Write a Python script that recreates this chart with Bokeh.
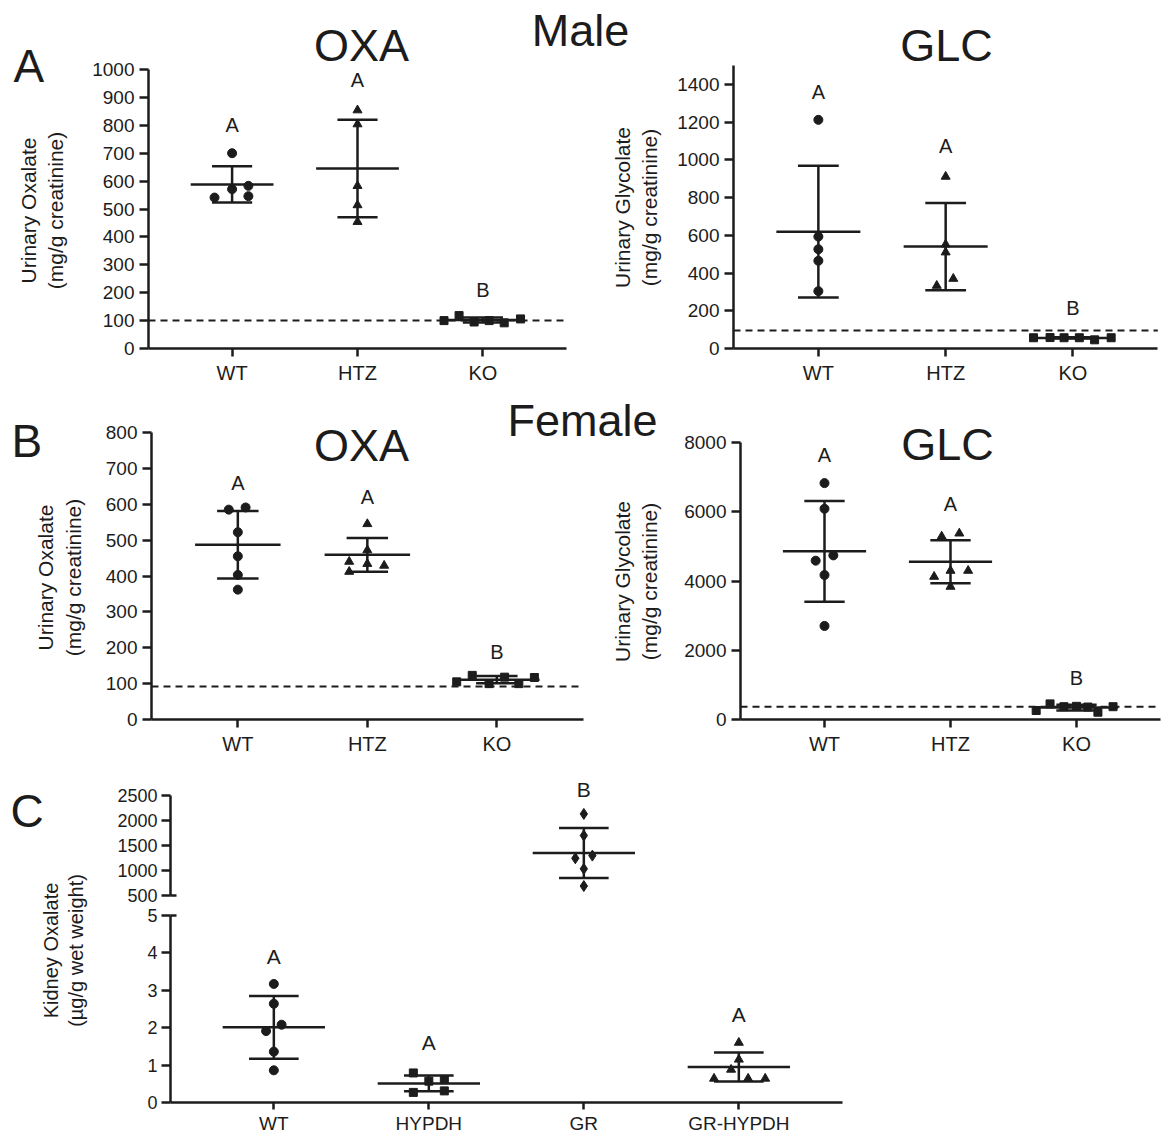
import math
from bokeh.plotting import figure
from bokeh.models import FixedTicker, Label, Range1d, LinearAxis
from bokeh.layouts import row, column
from bokeh.embed import file_html
from bokeh.resources import INLINE
from bokeh.core.properties import value

# ---------------- data ----------------
groups_urine = ["WT", "HTZ", "KO"]
groups_kidney = ["WT", "HYPDH", "GR", "GR-HYPDH"]

# Male urinary oxalate (mg/g creatinine)
m_oxa_wt = [541, 700, 571, 583, 546]
m_oxa_htz = [854, 804, 583, 514, 454]
m_oxa_ko = [100, 118, 95, 100, 92, 106]
m_oxa_mean = [588, 645, 102]
m_oxa_sd = [65, 175, 9]
m_oxa_letters = ["A", "A", "B"]
m_oxa_letter_y = [800, 964, 211]
m_oxa_limit = 100
m_oxa_yticks = [0, 100, 200, 300, 400, 500, 600, 700, 800, 900, 1000]

# Male urinary glycolate (mg/g creatinine)
m_glc_wt = [1212, 593, 526, 465, 304]
m_glc_htz = [911, 552, 510, 370, 333]
m_glc_ko = [57, 58, 57, 57, 46, 57]
m_glc_mean = [619, 540, 56]
m_glc_sd = [349, 231, 3]
m_glc_letters = ["A", "A", "B"]
m_glc_letter_y = [1357, 1071, 217]
m_glc_limit = 95
m_glc_yticks = [0, 200, 400, 600, 800, 1000, 1200, 1400]

# Female urinary oxalate (mg/g creatinine)
f_oxa_wt = [585, 591, 522, 455, 403, 362]
f_oxa_htz = [545, 472, 440, 434, 429, 412]
f_oxa_ko = [105, 123, 100, 118, 100, 117]
f_oxa_mean = [487, 459, 111]
f_oxa_sd = [94, 47, 10]
f_oxa_letters = ["A", "A", "B"]
f_oxa_letter_y = [660, 619, 187]
f_oxa_limit = 92
f_oxa_yticks = [0, 100, 200, 300, 400, 500, 600, 700, 800]

# Female urinary glycolate (mg/g creatinine)
f_glc_wt = [6827, 6087, 4587, 4740, 4173, 2702]
f_glc_htz = [5288, 5375, 4298, 4125, 4298, 3837]
f_glc_ko = [260, 450, 370, 380, 360, 210, 370]
f_glc_mean = [4856, 4558, 343]
f_glc_sd = [1452, 620, 80]
f_glc_letters = ["A", "A", "B"]
f_glc_letter_y = [7650, 6210, 1210]
f_glc_limit = 370
f_glc_yticks = [0, 2000, 4000, 6000, 8000]

# Kidney oxalate (ug/g wet weight); GR is on the upper (broken) segment
k_wt = [3.17, 2.64, 2.08, 1.91, 1.36, 0.86]
k_hypdh = [0.79, 0.27, 0.57, 0.61, 0.31]
k_gr = [2132, 1700, 1245, 1298, 1033, 689]
k_grh = [1.60, 1.15, 0.88, 0.64, 0.64, 0.64]
k_mean = [2.01, 0.51, 1351, 0.95]
k_sd = [0.84, 0.21, 500, 0.39]
k_letters = ["A", "A", "B", "A"]
k_letter_y = [3.9, 1.6, 2630, 2.34]
k_low_ticks = [0, 1, 2, 3, 4, 5]
k_high_ticks = [500, 1000, 1500, 2000, 2500]

# horizontal scatter offsets of the points (category units)
jit_m_oxa = [[-0.14, 0, 0, 0.13, 0.13], [0, 0, 0, 0, 0], [-0.31, -0.19, -0.07, 0.05, 0.17, 0.30]]
jit_m_glc = [[0, 0, 0, 0, 0], [0, 0, 0, 0.06, -0.07], [-0.31, -0.18, -0.07, 0.05, 0.17, 0.30]]
jit_f_oxa = [[-0.07, 0.06, 0, 0, 0, 0], [0, 0, -0.14, 0, 0.13, -0.14], [-0.31, -0.19, -0.06, 0.06, 0.17, 0.29]]
jit_f_glc = [[0, 0, -0.07, 0.07, 0, 0], [-0.07, 0.07, 0, -0.13, 0.14, 0], [-0.32, -0.21, -0.10, 0, 0.09, 0.17, 0.29]]
jit_k = [[0, 0, 0.05, -0.05, 0, 0], [-0.10, -0.10, 0, 0.10, 0.10], [0, 0, -0.055, 0.055, 0, 0], [0, 0, -0.05, -0.16, 0.06, 0.17]]

# ---------------- style / layout helpers ----------------
FONT = "Liberation Sans"
INK = "#1c1c1c"
LW = 2.5
X0 = 1 / 3          # category axis starts 2/3 of a step before the first group
GEO = {}


def make_panel(cx, cy, w, h, x_px, x_scale, y_px, y_val, y_scale):
    """Canvas at page (cx, cy) of size w x h; the frame fills it.
    x = X0 sits at page x_px; y = y_val sits at page y_px."""
    x_lo = X0 - (x_px - cx) / x_scale
    y_lo = y_val - ((cy + h) - y_px) / y_scale
    p = figure(width=w, height=h, x_range=Range1d(x_lo, x_lo + w / x_scale),
               y_range=Range1d(y_lo, y_lo + h / y_scale),
               min_border=0, output_backend="svg", toolbar_location=None)
    p.grid.visible = False
    p.outline_line_color = None
    GEO[p.id] = (cx, cy, w, h, x_lo, x_scale, y_lo, y_scale)
    return p


def to_data(p, px, py):
    cx, cy, w, h, x_lo, xs, y_lo, ys = GEO[p.id]
    return x_lo + (px - cx) / xs, y_lo + ((cy + h) - py) / ys


def style_axis(ax, size, tick_out=8, standoff=4):
    ax.axis_line_width = LW
    ax.axis_line_color = INK
    ax.major_tick_line_width = LW
    ax.major_tick_line_color = INK
    ax.major_tick_out = tick_out
    ax.major_tick_in = 0
    ax.minor_tick_line_color = None
    ax.major_label_text_font = FONT
    ax.major_label_text_font_size = f"{size}px"
    ax.major_label_text_color = INK
    ax.major_label_standoff = standoff


def page_label(p, px, py, text, size, align="left", baseline="alphabetic", angle=0.0):
    x, y = to_data(p, px, py)
    p.add_layout(Label(x=x, y=y, text=text, text_font=FONT, text_font_size=f"{size}px",
                       text_color=INK, text_align=align, text_baseline=baseline, angle=angle))


def big_label(p, px, baseline_py, text, align="left", size=45):
    # alphabetic baseline of the reference, corrected for the renderer's offset
    page_label(p, px, baseline_py - 17, text, size, align=align)


def axis_title(p, px1, px2, py, line1, line2, size=21):
    page_label(p, px1, py, line1, size, align="center", baseline="middle", angle=math.pi / 2)
    page_label(p, px2, py, line2, size, align="center", baseline="middle", angle=math.pi / 2)


def draw_group(p, xc, vals, jit, mean, sd, marker, size, rname="default"):
    p.scatter([xc + j for j in jit], vals, marker=marker, size=size, color=INK, y_range_name=rname)
    p.segment([xc - 0.33], [mean], [xc + 0.33], [mean], line_width=LW, color=INK, y_range_name=rname)
    p.segment([xc - 0.16, xc - 0.16, xc], [mean + sd, mean - sd, mean - sd],
              [xc + 0.16, xc + 0.16, xc], [mean + sd, mean - sd, mean + sd],
              line_width=LW, color=INK, y_range_name=rname)


def urine_panel(p, series, jits, means, sds, letters, letter_y, limit, yticks, ytop):
    n = len(groups_urine)
    x_hi = n + 1 - X0
    markers = ["circle", "triangle", "square"]
    sizes = [9, 9, 8]
    for i, vals in enumerate(series):
        draw_group(p, i + 1, vals, jits[i], means[i], sds[i], markers[i], sizes[i])
    p.segment([X0], [limit], [x_hi], [limit], line_dash="7 5", line_width=2, color=INK)
    p.text(x=list(range(1, n + 1)), y=letter_y, text=letters, text_font=value(FONT), text_font_size="20px",
           text_color=INK, text_align="center", text_baseline="middle")
    xa, ya = p.xaxis[0], p.yaxis[0]
    xa.ticker = FixedTicker(ticks=list(range(1, n + 1)))
    xa.major_label_overrides = {i + 1: g for i, g in enumerate(groups_urine)}
    xa.fixed_location = 0
    xa.bounds = (X0, x_hi)
    ya.ticker = FixedTicker(ticks=yticks)
    ya.fixed_location = X0
    ya.bounds = (0, ytop)
    style_axis(xa, 20, tick_out=8, standoff=5)
    style_axis(ya, 19, tick_out=9, standoff=5)


# ---------------- row 1 : male ----------------
pA1 = make_panel(0, 0, 665, 392, 148, 125.4, 348, 0, 279 / 1000)
urine_panel(pA1, [m_oxa_wt, m_oxa_htz, m_oxa_ko], jit_m_oxa, m_oxa_mean, m_oxa_sd,
            m_oxa_letters, m_oxa_letter_y, m_oxa_limit, m_oxa_yticks, 1000)
pA2 = make_panel(665, 0, 496, 392, 733, 127.3, 348, 0, 283 / 1500)
urine_panel(pA2, [m_glc_wt, m_glc_htz, m_glc_ko], jit_m_glc, m_glc_mean, m_glc_sd,
            m_glc_letters, m_glc_letter_y, m_glc_limit, m_glc_yticks, 1500)

big_label(pA1, 13, 82, "A", size=46)
big_label(pA1, 361, 62, "OXA", align="center")
big_label(pA1, 580, 47, "Male", align="center")
axis_title(pA1, 28, 55, 210, "Urinary Oxalate", "(mg/g creatinine)")
axis_title(pA1, 622, 649, 207, "Urinary Glycolate", "(mg/g creatinine)")
big_label(pA2, 946, 62, "GLC", align="center")

# ---------------- row 2 : female ----------------
pB1 = make_panel(0, 392, 670, 373, 151, 129.5, 719, 0, 287 / 800)
urine_panel(pB1, [f_oxa_wt, f_oxa_htz, f_oxa_ko], jit_f_oxa, f_oxa_mean, f_oxa_sd,
            f_oxa_letters, f_oxa_letter_y, f_oxa_limit, f_oxa_yticks, 800)
pB2 = make_panel(670, 392, 491, 373, 740, 126, 719, 0, 277 / 8000)
urine_panel(pB2, [f_glc_wt, f_glc_htz, f_glc_ko], jit_f_glc, f_glc_mean, f_glc_sd,
            f_glc_letters, f_glc_letter_y, f_glc_limit, f_glc_yticks, 8000)

big_label(pB1, 11, 457, "B", size=46)
big_label(pB1, 361, 462, "OXA", align="center")
big_label(pB1, 582, 437, "Female", align="center")
axis_title(pB1, 45, 73, 577, "Urinary Oxalate", "(mg/g creatinine)")
axis_title(pB1, 622, 649, 581, "Urinary Glycolate", "(mg/g creatinine)")
big_label(pB2, 947, 461, "GLC", align="center")

# ---------------- row 3 : kidney (broken axis) ----------------
low_zero = 1102
low_scale = (low_zero - 915) / 5      # px per ug/g on the lower segment
up_scale = (895 - 795) / 2000         # px per ug/g on the upper segment
cx, cy, cw, ch = 0, 765, 900, 372
pC = make_panel(cx, cy, cw, ch, 170, 155, low_zero, 0, low_scale)
up_lo = 500 - ((cy + ch) - 895) / up_scale
pC.extra_y_ranges = {"upper": Range1d(up_lo, up_lo + ch / up_scale)}

nk = len(groups_kidney)
ya = pC.yaxis[0]
ya.ticker = FixedTicker(ticks=k_low_ticks)
ya.fixed_location = X0
ya.bounds = (k_low_ticks[0], k_low_ticks[-1])
up_axis = LinearAxis(y_range_name="upper", ticker=FixedTicker(ticks=k_high_ticks),
                     fixed_location=X0, bounds=(k_high_ticks[0], k_high_ticks[-1]))
pC.add_layout(up_axis, "left")
style_axis(ya, 18, tick_out=9, standoff=4)
style_axis(up_axis, 18, tick_out=9, standoff=4)
xa = pC.xaxis[0]
xa.ticker = FixedTicker(ticks=list(range(1, nk + 1)))
xa.major_label_overrides = {i + 1: g for i, g in enumerate(groups_kidney)}
xa.fixed_location = 0
xa.bounds = (X0, nk + 1 - X0)
style_axis(xa, 19, tick_out=7, standoff=3)

# axis-break marks: the end ticks of both segments cross the axis line
brk = 6 / 155
pC.segment([X0], [k_high_ticks[0]], [X0 + brk], [k_high_ticks[0]], line_width=LW, color=INK,
           y_range_name="upper")
pC.segment([X0], [k_low_ticks[-1]], [X0 + brk], [k_low_ticks[-1]], line_width=LW, color=INK)

k_series = [k_wt, k_hypdh, k_gr, k_grh]
k_markers = ["circle", "square", "diamond", "triangle"]
k_sizes = [9, 8, 11, 9]
for i, vals in enumerate(k_series):
    rn = "upper" if i == 2 else "default"
    draw_group(pC, i + 1, vals, jit_k[i], k_mean[i], k_sd[i], k_markers[i], k_sizes[i], rname=rn)
low_idx = [0, 1, 3]
pC.text(x=[i + 1 for i in low_idx], y=[k_letter_y[i] for i in low_idx], text=[k_letters[i] for i in low_idx],
        text_font=value(FONT), text_font_size="21px", text_color=INK, text_align="center", text_baseline="middle")
pC.text(x=[3], y=[k_letter_y[2]], text=[k_letters[2]], y_range_name="upper",
        text_font=value(FONT), text_font_size="21px", text_color=INK, text_align="center", text_baseline="middle")

big_label(pC, 10, 827, "C", size=46)
axis_title(pC, 50, 75, 950, "Kidney Oxalate", "(\u00b5g/g wet weight)", size=20)

layout = column(row(pA1, pA2), row(pB1, pB2), pC)
open("out.html", "w").write(file_html(layout, INLINE))
